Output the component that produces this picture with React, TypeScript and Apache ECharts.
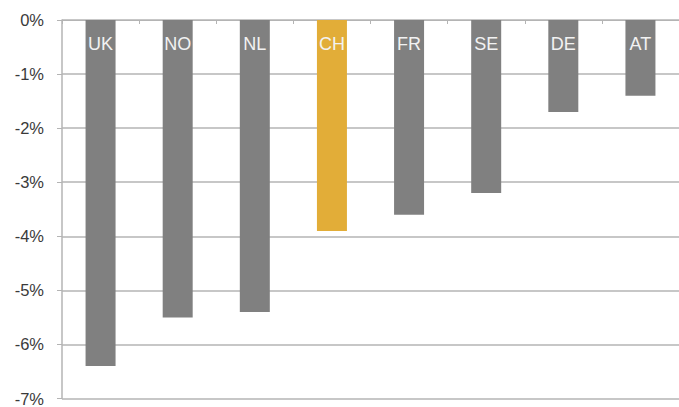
import React, { useEffect, useRef } from "react";
import * as echarts from "echarts";

const countries = ["UK", "NO", "NL", "CH", "FR", "SE", "DE", "AT"];
const changes = [-6.4, -5.5, -5.4, -3.9, -3.6, -3.2, -1.7, -1.4];
const highlight = "CH";

const GREY = "#808080";
const GOLD = "#E2AD38";
const LINE = "#b4b4b4";

export default function App() {
  const ref = useRef<HTMLDivElement>(null);

  useEffect(() => {
    if (!ref.current) return;
    const chart = echarts.init(ref.current, undefined, { renderer: "svg" });
    chart.setOption({
      animation: false,
      grid: { left: 62, top: 20, right: -5, bottom: 5, containLabel: false },
      xAxis: {
        type: "category",
        data: countries,
        position: "top",
        axisLine: { show: true, onZero: false, lineStyle: { color: LINE, width: 1 } },
        axisTick: { show: true, inside: true, length: 4, lineStyle: { color: LINE } },
        axisLabel: { show: false },
        splitLine: { show: false },
      },
      yAxis: {
        type: "value",
        min: -7,
        max: 0,
        interval: 1,
        axisLine: { show: true, lineStyle: { color: LINE, width: 1.5 } },
        axisTick: { show: true, length: 5, lineStyle: { color: LINE } },
        axisLabel: {
          formatter: (v: number) => `${v}%`,
          color: "#3a3a3a",
          fontFamily: "Liberation Sans, Arial, sans-serif",
          fontSize: 16.5,
          margin: 18,
        },
        splitLine: { show: true, lineStyle: { color: LINE, width: 1.5 } },
      },
      series: [
        {
          type: "bar",
          barWidth: 30,
          data: countries.map((c, i) => ({
            value: changes[i],
            itemStyle: { color: c === highlight ? GOLD : GREY },
          })),
          label: {
            show: true,
            position: "insideTop",
            distance: 15,
            formatter: "{b}",
            color: "#f2f2f2",
            fontFamily: "Liberation Sans, Arial, sans-serif",
            fontSize: 18,
          },
        },
      ],
    });
    return () => chart.dispose();
  }, []);

  return (
    <div
      ref={ref}
      style={{ position: "fixed", left: 0, top: 0, width: 679, height: 407, background: "#fff" }}
    />
  );
}
